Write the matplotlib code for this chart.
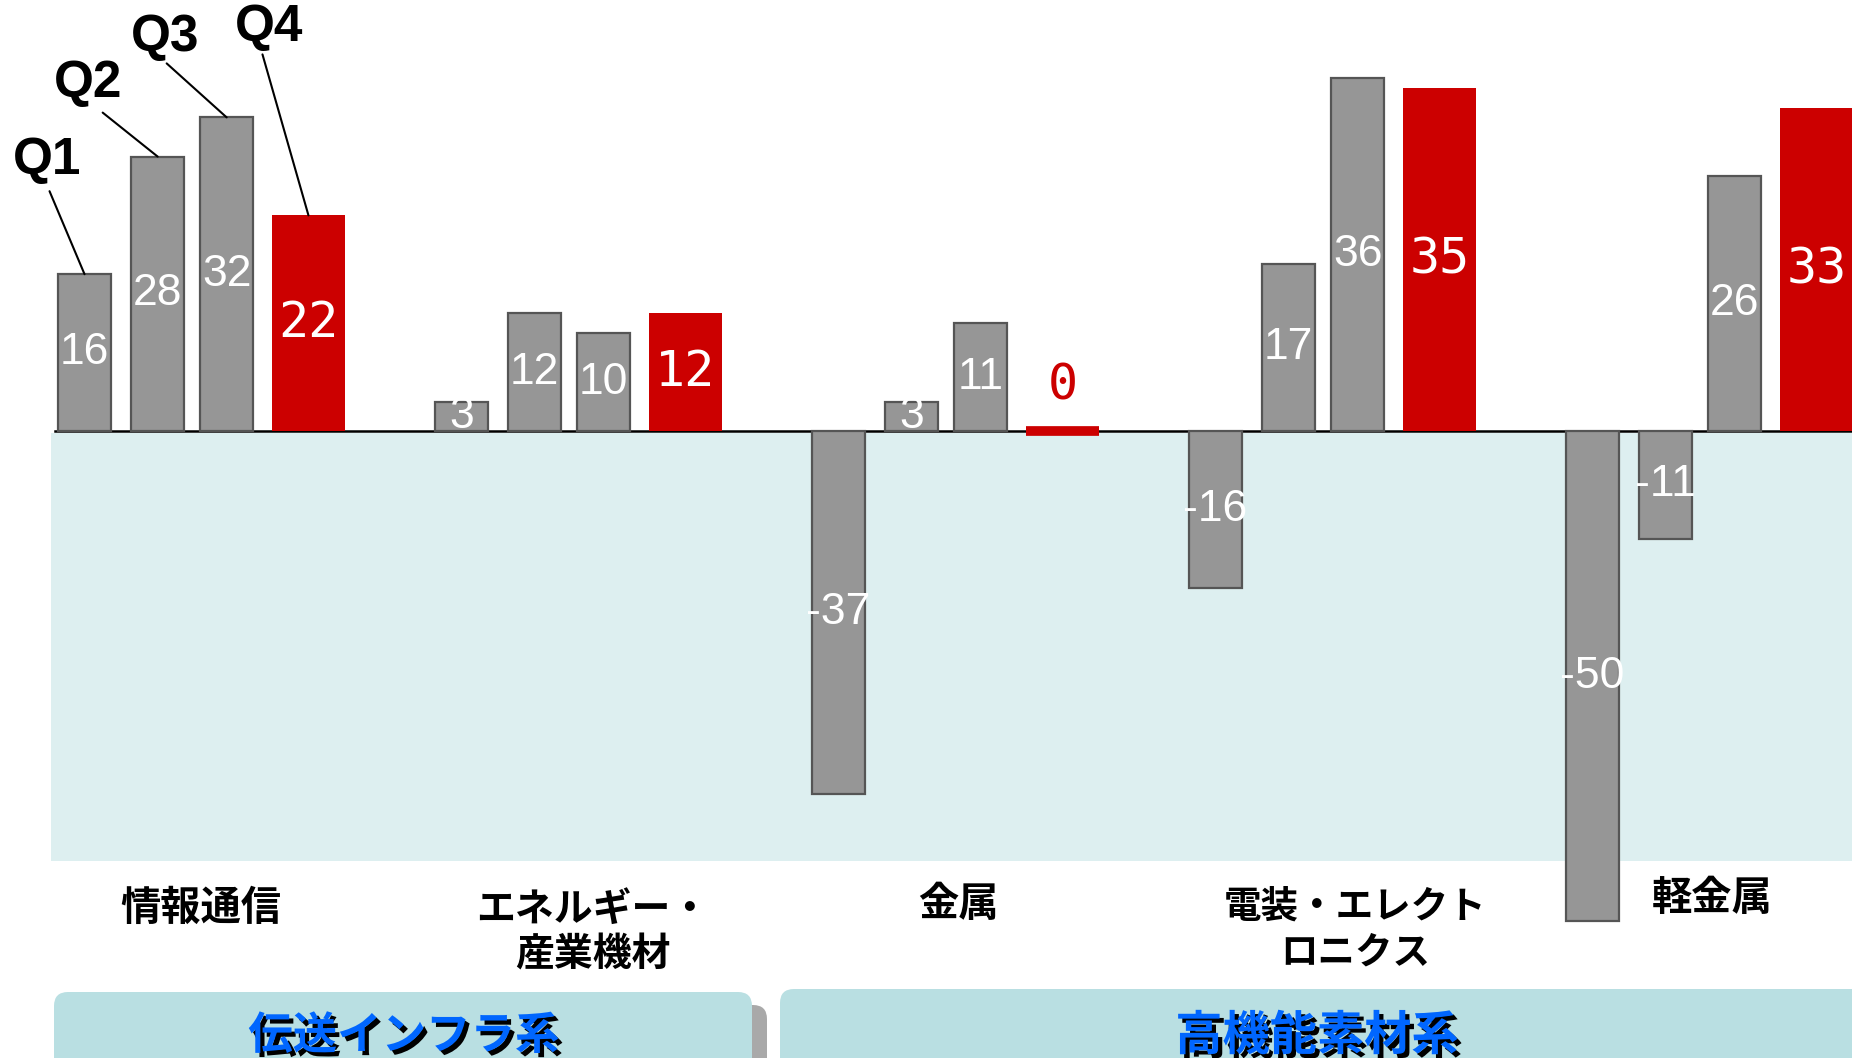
import numpy as np
import matplotlib
matplotlib.use('Agg')
import matplotlib.pyplot as plt
import matplotlib.patheffects as pe
from matplotlib.patches import FancyBboxPatch, Rectangle

# 四半期ごとの前年比（億円）
quarters = ['Q1', 'Q2', 'Q3', 'Q4']
categories = ['情報通信', 'エネルギー・\n産業機材', '金属', '電装・エレクト\nロニクス', '軽金属']
q1 = [16, 3, -37, -16, -50]
q2 = [28, 12, 3, 17, -11]
q3 = [32, 10, 11, 36, 26]
q4 = [22, 12, 0, 35, 33]
segments = ['伝送インフラ系', '高機能素材系']

W, H = 1852, 1058
GREY, GREY_EDGE, RED = '#969696', '#555555', '#cc0000'
JP = ['Noto Sans CJK JP', 'DejaVu Sans']

fig = plt.figure(figsize=(W / 100, H / 100), dpi=100)

# 背景用（ピクセル座標）
bg = fig.add_axes([0, 0, 1, 1], zorder=0)
bg.set_xlim(0, W)
bg.set_ylim(H, 0)
bg.axis('off')

# マイナス側の水色エリア
bg.add_patch(Rectangle((51, 433), W - 51, 428, facecolor='#ddeff0', edgecolor='none'))

# 下部のセグメント枠
bg.add_patch(FancyBboxPatch((69, 1005), 698, 120, boxstyle='round,pad=0,rounding_size=14',
                            facecolor='#a9a9a9', edgecolor='none'))
bg.add_patch(FancyBboxPatch((54, 992), 698, 120, boxstyle='round,pad=0,rounding_size=14',
                            facecolor='#b9dfe2', edgecolor='none'))
bg.add_patch(FancyBboxPatch((780, 989), 1120, 120, boxstyle='round,pad=0,rounding_size=14',
                            facecolor='#b9dfe2', edgecolor='none'))
shadow = [pe.SimplePatchShadow(offset=(3, -3), shadow_rgbFace='black', alpha=1.0), pe.Normal()]
for txt, x, fs in zip(segments, [404, 1317], [32, 34]):
    bg.text(x, 1036, txt, ha='center', va='center', fontsize=fs, fontweight='bold',
            color='#0066ff', family=JP, path_effects=shadow)

# カテゴリ名
label_x = [201, 593, 958, 1355, 1712]
label_y = [908, 932, 904, 929, 898]
label_fs = [29, 28, 29, 27, 29]
for txt, x, y, fs in zip(categories, label_x, label_y, label_fs):
    bg.text(x, y, txt, ha='center', va='center', fontsize=fs, fontweight='bold',
            family=JP, linespacing=1.2)

# 棒グラフ本体
ax = fig.add_axes([0, 0, 1, 1], zorder=1)
ax.patch.set_visible(False)
ax.axis('off')
px_x = 377.0   # 1カテゴリあたりのピクセル幅
px_y = 9.8     # 1億円あたりのピクセル
x0 = 196.5
ax.set_xlim(-x0 / px_x, (W - x0) / px_x)
ax.set_ylim(-(H - 431) / px_y, 431 / px_y)

idx = np.arange(len(categories))
offsets = [-0.297, -0.103, 0.080, 0.297]
series = [q1, q2, q3, q4]

ax.axhline(0, xmin=55 / W, xmax=1, color='black', lw=1.8, zorder=2)

for k, vals in enumerate(series):
    xs = idx + offsets[k]
    if k < 3:
        ax.bar(xs, vals, width=0.14, color=GREY, edgecolor=GREY_EDGE, linewidth=1.6, zorder=3)
        for x, v in zip(xs, vals):
            ax.text(x, v / 2, str(v), ha='center', va='center', color='white',
                    fontsize=32, family='Liberation Sans', zorder=4)
    else:
        lws = [7 if v == 0 else 0 for v in vals]
        ax.bar(xs, vals, width=0.195, color=RED, edgecolor=RED, linewidth=lws, zorder=3)
        for x, v in zip(xs, vals):
            if v == 0:
                ax.annotate(str(v), (x, v), xytext=(0, 46), textcoords='offset pixels',
                            ha='center', va='center', color=RED, fontsize=36,
                            family='DejaVu Sans Mono', zorder=4)
            else:
                ax.text(x, v / 2, str(v), ha='center', va='center', color='white',
                        fontsize=36, family='DejaVu Sans Mono', zorder=4)

# Q1〜Q4の引き出し線（情報通信の棒）
line_end = [(-8, 7), (-17, 9), (-19, 6), (-12, 6)]
line_start = [(-35, 83), (-55, 44), (-60, 54), (-46, 161)]
text_pos = [(-37, 114), (-70, 73), (-62, 80), (-39, 188)]
for k, q in enumerate(quarters):
    x, v = idx[0] + offsets[k], series[k][0]
    ax.annotate('', xy=(x, v), xytext=line_start[k], textcoords='offset pixels',
                arrowprops=dict(arrowstyle='-', lw=1.5, color='black', shrinkA=0, shrinkB=0))
    ax.annotate(q, (x, v), xytext=text_pos[k], textcoords='offset pixels',
                ha='center', va='center', fontsize=37, fontweight='bold',
                family='Liberation Sans')

fig.savefig('out.png', dpi=100)
